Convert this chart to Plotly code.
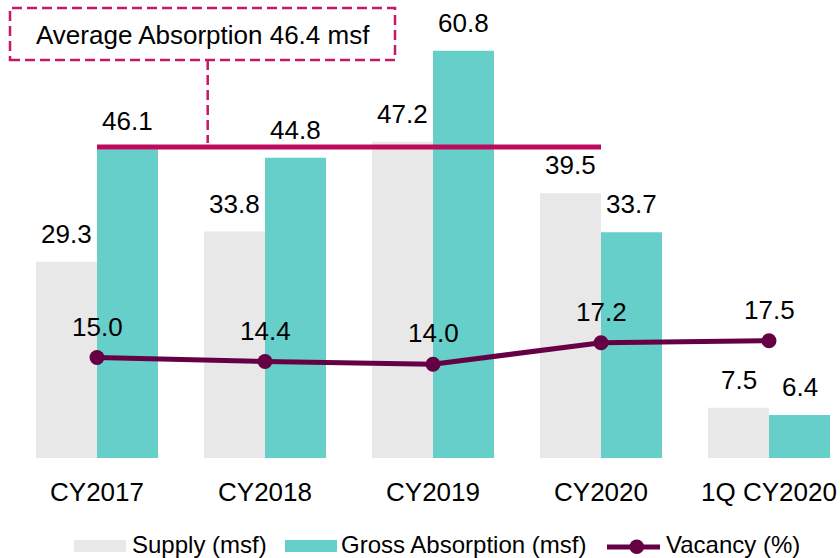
import plotly.graph_objects as go

# ---------------- data ----------------
categories = ["CY2017", "CY2018", "CY2019", "CY2020", "1Q CY2020"]
supply = [29.3, 33.8, 47.2, 39.5, 7.5]
absorption = [46.1, 44.8, 60.8, 33.7, 6.4]
vacancy = [15.0, 14.4, 14.0, 17.2, 17.5]
avg_absorption = 46.4
avg_span = ["CY2017", "CY2020"]
avg_label = "Average Absorption 46.4 msf"
series_names = ["Supply (msf)", "Gross Absorption (msf)", "Vacancy (%)"]

# ---------------- style ----------------
C_SUPPLY = "#E8E8E8"
C_ABS = "#66CFCA"
C_VAC = "#660044"
C_AVG = "#BE0A5C"
C_BOX = "#C4186A"
FONT = "Liberation Sans, Arial, sans-serif"

W, H = 840, 558
ML, MR, MT, MB = 13, 0, 0, 100
PW, PH = W - ML - MR, H - MT - MB


def px(x):
    return (x - ML) / PW


def py(y):
    return (H - MB - y) / PH


fig = go.Figure()
fig.add_trace(go.Bar(x=categories, y=supply, name=series_names[0],
                     marker=dict(color=C_SUPPLY, line=dict(width=0)),
                     showlegend=False, hoverinfo="x+y"))
fig.add_trace(go.Bar(x=categories, y=absorption, name=series_names[1],
                     marker=dict(color=C_ABS, line=dict(width=0)),
                     showlegend=False, hoverinfo="x+y"))
fig.add_trace(go.Scatter(x=avg_span, y=[avg_absorption] * len(avg_span),
                         mode="lines", line=dict(color=C_AVG, width=5),
                         showlegend=False, hoverinfo="skip"))
fig.add_trace(go.Scatter(x=categories, y=vacancy, name=series_names[2],
                         mode="lines+markers",
                         line=dict(color=C_VAC, width=5),
                         marker=dict(color=C_VAC, size=15),
                         showlegend=False, hoverinfo="x+y"))

annotations = []
LABEL_FONT = dict(family=FONT, size=26, color="#000000")
for c, s, a, v in zip(categories, supply, absorption, vacancy):
    annotations.append(dict(x=c, y=s, xref="x", yref="y", text=f"{s:.1f}",
                            showarrow=False, xshift=-30.5, yanchor="bottom",
                            yshift=11, font=LABEL_FONT))
    annotations.append(dict(x=c, y=a, xref="x", yref="y", text=f"{a:.1f}",
                            showarrow=False, xshift=30.5, yanchor="bottom",
                            yshift=11, font=LABEL_FONT))
    annotations.append(dict(x=c, y=v, xref="x", yref="y", text=f"{v:.1f}",
                            showarrow=False, yanchor="bottom",
                            yshift=14, font=LABEL_FONT))

# average callout box
annotations.append(dict(x=px(202.5), y=py(35.5), xref="paper", yref="paper",
                        text=avg_label, showarrow=False, xanchor="center",
                        yanchor="middle", font=LABEL_FONT))

shapes = [
    dict(type="rect", xref="paper", yref="paper", x0=px(10), x1=px(395),
         y0=py(60), y1=py(8), line=dict(color=C_BOX, width=2.5, dash="10px,5px")),
    dict(type="line", xref="paper", yref="paper", x0=px(207.7), x1=px(207.7),
         y0=py(60), y1=py(143), line=dict(color=C_BOX, width=2.5, dash="10px,5px")),
]

# custom legend
LEG_FONT = dict(family=FONT, size=24, color="#000000")
LEG_Y = 546
shapes.append(dict(type="rect", xref="paper", yref="paper", x0=px(74), x1=px(126),
                   y0=py(552), y1=py(540), fillcolor=C_SUPPLY, line=dict(width=0)))
shapes.append(dict(type="rect", xref="paper", yref="paper", x0=px(285), x1=px(337),
                   y0=py(552), y1=py(540), fillcolor=C_ABS, line=dict(width=0)))
shapes.append(dict(type="line", xref="paper", yref="paper", x0=px(607), x1=px(660),
                   y0=py(LEG_Y + 1), y1=py(LEG_Y + 1), line=dict(color=C_VAC, width=5)))
shapes.append(dict(type="circle", xref="paper", yref="paper", x0=px(629.5), x1=px(644),
                   y0=py(LEG_Y + 8), y1=py(LEG_Y - 6.5), fillcolor=C_VAC,
                   line=dict(width=0)))
for x0, name in zip([129.5, 339, 664], series_names):
    annotations.append(dict(x=px(x0), y=py(544.5), xref="paper", yref="paper",
                            text=name, showarrow=False, xanchor="left",
                            yanchor="middle", font=LEG_FONT))

fig.update_layout(
    width=W, height=H,
    margin=dict(l=ML, r=MR, t=MT, b=MB, pad=0),
    paper_bgcolor="white", plot_bgcolor="white",
    barmode="group", bargap=46 / 168, bargroupgap=0,
    showlegend=False,
    annotations=annotations, shapes=shapes,
    font=dict(family=FONT, color="#000000"),
)
fig.update_xaxes(type="category", range=[-0.5, 4.5 - 13 / 168],
                 showgrid=False, showline=False, zeroline=False, ticks="",
                 tickfont=dict(family=FONT, size=26, color="#000000"),
                 ticklabelstandoff=16)
fig.update_yaxes(range=[0, 458 / 6.70], visible=False, showgrid=False)

fig.write_html(
    "out.html",
    config={"displayModeBar": False},
    post_script="document.body.style.margin='0';document.body.style.overflow='hidden';",
)
